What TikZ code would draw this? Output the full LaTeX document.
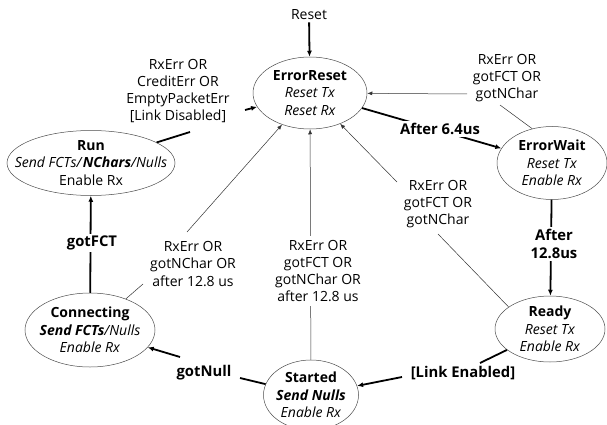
\documentclass[tikz,border=0pt]{standalone}
\usepackage{fontspec}
\setmainfont{Open Sans}
\usetikzlibrary{shapes.geometric,arrows.meta}
\newcommand\myfs{\fontsize{14}{17.3}\selectfont}
\newcommand\mybfs{\fontsize{14.8}{17.5}\selectfont}
\tikzset{
  stbox/.style={ellipse, draw=black!70, line width=0.5pt, inner sep=0pt},
  sttext/.style={align=center, font=\myfs, inner sep=0pt},
  lbl/.style={align=center, font=\myfs, inner sep=2pt},
  blbl/.style={align=center, font=\mybfs\bfseries, inner sep=2pt},
  wbg/.style={fill=white},
  thk/.style={line width=1.8pt, -{Latex[length=6pt,width=5pt]}},
  thkn/.style={line width=1.8pt},
  thn/.style={line width=0.5pt, draw=black!80, -{Latex[length=5pt,width=4pt]}},
  thnn/.style={line width=0.5pt, draw=black!80},
}
\begin{document}
\begin{tikzpicture}[x=1pt,y=-1pt]
\useasboundingbox (0,0) rectangle (607,425);
% states (shapes)
\node[stbox, minimum width=114pt, minimum height=72pt] (ER) at (310,93) {};
\node[stbox, minimum width=110pt, minimum height=73pt] (EW) at (552,163) {};
\node[stbox, minimum width=110pt, minimum height=66pt] (RD) at (550,329) {};
\node[stbox, minimum width=95pt, minimum height=70pt] (ST) at (311,395) {};
\node[stbox, minimum width=130pt, minimum height=74pt] (CN) at (90,330) {};
\node[stbox, minimum width=168pt, minimum height=65pt] (RN) at (91,163) {};
% state texts
\node[sttext] (ERt) at (ER) {\textbf{ErrorReset}\\\textit{Reset Tx}\\\textit{Reset Rx}};
\node[sttext] (EWt) at (EW) {\textbf{ErrorWait}\\\textit{Reset Tx}\\\textit{Enable Rx}};
\node[sttext] (RDt) at (RD) {\textbf{Ready}\\\textit{Reset Tx}\\\textit{Enable Rx}};
\node[sttext] (STt) at (ST) {\textbf{Started}\\\textbf{\textit{Send Nulls}}\\\textit{Enable Rx}};
\node[sttext] (CNt) at (CN) {\textbf{Connecting}\\\textbf{\textit{Send FCTs}}\textit{/Nulls}\\\textit{Enable Rx}};
\node[sttext] (RNt) at (RN) {\textbf{Run}\\\textit{Send FCTs/}\textbf{\textit{NChars}}\textit{/Nulls}\\Enable Rx};
% labels without background
\node[lbl] (reset) at (309,15) {Reset};
\node[lbl] (lB) at (507,78) {RxErr OR\\gotFCT OR\\gotNChar};
\node[lbl] (lC) at (438,204) {RxErr OR\\gotFCT OR\\gotNChar};
\node[lbl] (lE) at (193,264) {RxErr OR\\gotNChar OR\\after 12.8 us};
\node[lbl] (lF) at (178,91) {RxErr OR\\CreditErr OR\\EmptyPacketErr\\{[Link Disabled]}};
\node[blbl] (lH) at (204,373) {gotNull};
\node[blbl] (lI) at (463,373) {[Link Enabled]};
% break points
\coordinate (b1) at (500,105); \coordinate (b2) at (467,94);
\coordinate (c1) at (438,234); \coordinate (c2) at (397,182);
\coordinate (e1) at (143,284); \coordinate (e2) at (187,232);
\coordinate (f1) at (190,132); \coordinate (f2) at (245,110);
\coordinate (h1) at (240,378); \coordinate (h2) at (180,357);
\coordinate (i1) at (480,363); \coordinate (i2) at (402,377);
% connectors
\draw[thk] (reset) -- (ER);
\draw[thk] (ER) -- (EW);
\draw[thk] (EW) -- (RD);
\draw[thk] (CN) -- (RN);
\draw[thn] (ST) -- (ER);
\draw[thnn] (EW.120) -- (b1);
\draw[thn] (b2) -- (ER);
\draw[thnn] (RD.152) -- (c1);
\draw[thn] (c2) -- (ER);
\draw[thnn] (CN) -- (e1);
\draw[thn] (e2) -- (ER);
\draw[thkn] (RN) -- (f1);
\draw[thk] (f2) -- (ER);
\draw[thkn] (ST) -- (h1);
\draw[thk] (h2) -- (CN);
\draw[thkn] (RD) -- (i1);
\draw[thk] (i2) -- (ST);
% labels on top of lines
\node[blbl, wbg] (lA) at (440,129) {After 6.4us};
\node[blbl, wbg] (lJ) at (554,244) {After\\12.8us};
\node[blbl, wbg] (lG) at (92,243) {gotFCT};
\node[lbl, wbg, inner sep=4pt] (lD) at (318,271) {RxErr OR\\gotFCT OR\\gotNChar OR\\after 12.8 us};
\end{tikzpicture}
\end{document}
